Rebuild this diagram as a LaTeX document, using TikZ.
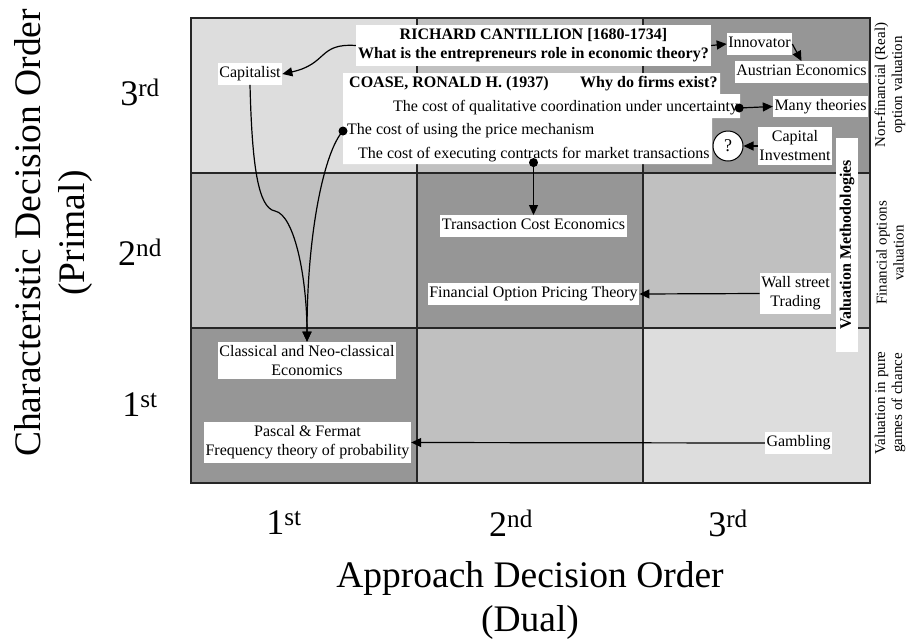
\documentclass[tikz,border=0pt]{standalone}
\usepackage{fontspec}
\setmainfont{Liberation Serif}
\usetikzlibrary{arrows.meta}
\definecolor{cLight}{HTML}{DDDDDD}
\definecolor{cMed}{HTML}{C0C0C0}
\definecolor{cDark}{HTML}{969696}
\tikzset{
  txt/.style={font=\fontsize{16}{19}\selectfont},
  wbox/.style={txt, fill=white, inner xsep=1.5pt, inner ysep=3.5pt, align=center},
  sbox/.style={wbox, text height=11.5pt, text depth=4pt, inner ysep=3pt},
  plain/.style={txt, anchor=west, inner sep=0pt},
  arr/.style={-{Triangle[length=10pt,width=9pt]}, line width=1.2pt},
  gridline/.style={line width=1.4pt, draw=black!85},
  ticklab/.style={font=\fontsize{36}{40}\selectfont, inner sep=0pt},
  biglab/.style={font=\fontsize{37.5}{44}\selectfont, align=center, inner sep=0pt},
  sidelab/.style={font=\fontsize{15}{17}\selectfont, align=center, rotate=90, inner sep=0pt}
}
\begin{document}
\begin{tikzpicture}[x=1pt,y=-1pt]
\useasboundingbox (0,0) rectangle (915,638);
% cells
\fill[cLight] (191,18) rectangle (417,173);
\fill[cMed]   (417,18) rectangle (643,173);
\fill[cDark]  (643,18) rectangle (870,173);
\fill[cMed]   (191,173) rectangle (417,328);
\fill[cDark]  (417,173) rectangle (643,328);
\fill[cMed]   (643,173) rectangle (870,328);
\fill[cDark]  (191,328) rectangle (417,483);
\fill[cMed]   (417,328) rectangle (643,483);
\fill[cLight] (643,328) rectangle (870,483);
\draw[gridline] (191,18) rectangle (870,483);
\draw[gridline] (417,18) -- (417,483);
\draw[gridline] (643,18) -- (643,483);
\draw[gridline] (191,173) -- (870,173);
\draw[gridline] (191,328) -- (870,328);

% Coase white area
\fill[white] (343,73) -- (720,73) -- (720,94) -- (740,94) -- (740,118) -- (712,118) -- (712,164) -- (343,164) -- cycle;
\node[plain, font=\fontsize{16}{19}\selectfont\bfseries] (coase) at (349,84) {COASE, RONALD H. (1937)};
\node[plain, font=\fontsize{16}{19}\selectfont\bfseries] (why) at (580,84) {Why do firms exist?};
\node[plain] (qual) at (393,108) {The cost of qualitative coordination under uncertainty};
\node[plain] (price) at (347,131) {The cost of using the price mechanism};
\node[plain] (exec) at (358,155) {The cost of executing contracts for market transactions};

% boxes
\node[wbox, font=\fontsize{16}{19}\selectfont\bfseries, minimum width=355pt, minimum height=41pt] (cant) at (533.5,45.5) {RICHARD CANTILLION [1680-1734]\\What is the entrepreneurs role in economic theory?};
\node[sbox] (cap) at (250,74) {Capitalist};
\node[sbox] (innov) at (759.5,44) {Innovator};
\node[sbox] (aus) at (801.5,72) {Austrian Economics};
\node[sbox] (many) at (820.5,106.5) {Many theories};
\node[wbox] (capinv) at (795,146) {Capital\\Investment};
\node[circle, draw, fill=white, minimum size=30pt, inner sep=0pt, line width=1pt, font=\fontsize{18}{20}\selectfont] (q) at (728,146) {?};
\node[fill=white, rotate=90, minimum width=214pt, minimum height=22pt, inner sep=0pt, font=\fontsize{16}{19}\selectfont\bfseries] (valm) at (847,245) {Valuation Methodologies};
\node[sbox] (tce) at (533.5,226) {Transaction Cost Economics};
\node[sbox] (fopt) at (533.5,294) {Financial Option Pricing Theory};
\node[wbox] (wall) at (795.5,293.5) {Wall street\\Trading};
\node[sbox] (gamb) at (798.5,443) {Gambling};
\node[wbox] (class) at (307,360.5) {Classical and Neo-classical\\Economics};
\node[wbox] (pascal) at (307.5,442.5) {Pascal \& Fermat\\Frequency theory of probability};

% dots
\coordinate (d1) at ([xshift=1pt]qual.east);
\coordinate (d2) at ([xshift=-4pt]price.west);
\coordinate (d3) at (tce.north |- exec.south);
\fill (d1) circle (4.5pt);
\fill (d2) circle (4.5pt);
\fill (d3) circle (4.5pt);

% connectors
\draw[arr] (cant.west) .. controls (318,43) and (328,64) .. (cap.east);
\draw[arr] (cant.east) -- (innov.west);
\draw[arr] (innov.east) -- (aus.north);
\draw[arr] (d1) -- (many.west);
\draw[arr] (capinv.west) -- (q.east);
\draw[arr] (d3) -- (tce.north);
\draw[arr] (wall.west) -- (fopt.east);
\draw[arr] (gamb.west) -- (pascal.east);
\draw[arr] (cap.south) .. controls (252,165) and (258,208) .. (275,211) .. controls (295,215) and (307,280) .. (class.north);
\draw[arr] (d2) .. controls (325,150) and (307,230) .. (class.north);

% side labels
\node[sidelab] (s3) at (890,85) {Non-financial (Real)\\option valuation};
\node[sidelab] (s2) at (890,253) {Financial options\\valuation};
\node[sidelab] (s1) at (890,403) {Valuation in pure\\games of chance};

% axis ticks
\node[ticklab] (y3) at (140,92) {3\textsuperscript{rd}};
\node[ticklab] (y2) at (140,252) {2\textsuperscript{nd}};
\node[ticklab] (y1) at (140,405) {1\textsuperscript{st}};
\node[ticklab] (x1) at (284,523) {1\textsuperscript{st}};
\node[ticklab] (x2) at (511,523) {2\textsuperscript{nd}};
\node[ticklab] (x3) at (728,523) {3\textsuperscript{rd}};

% axis titles
\node[biglab, rotate=90] (ylab) at (53,233) {Characteristic Decision Order\\(Primal)};
\node[biglab] (xlab) at (530,600) {Approach Decision Order\\(Dual)};
\end{tikzpicture}
\end{document}
